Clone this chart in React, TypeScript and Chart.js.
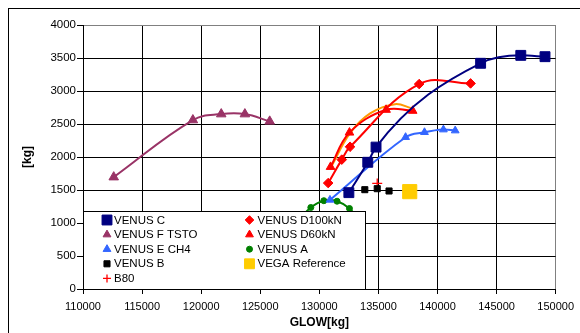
import React, { useEffect, useRef } from 'react';
import { Chart, registerables } from 'chart.js';
import { drawPoint } from 'chart.js/helpers';

Chart.register(...registerables);

// ---- data ----
const xTickValues = [110000, 115000, 120000, 125000, 130000, 135000, 140000, 145000, 150000];
const yTickValues = [0, 500, 1000, 1500, 2000, 2500, 3000, 3500, 4000];

const venusCX = [132500, 134100, 134800, 143650, 147050, 149100];
const venusCY = [1460, 1920, 2150, 3420, 3540, 3520];

const venusFX = [112600, 119300, 121700, 123700, 125800];
const venusFY = [1695, 2560, 2650, 2650, 2540];

const venusEX = [130900, 137300, 138900, 140500, 141500];
const venusEY = [1350, 2300, 2375, 2415, 2400];

const venusBX = [133850, 134900, 135900];
const venusBY = [1505, 1520, 1485];

const b80X = [134900];
const b80Y = [1600];

const venusD100X = [130750, 131900, 132600, 138450, 142800];
const venusD100Y = [1605, 1960, 2155, 3105, 3115];

const venusD60X = [130950, 132550, 135650, 137900];
const venusD60Y = [1850, 2370, 2715, 2700];

const venusAX = [128300, 129280, 130380, 131500, 132550, 133300];
const venusAY = [1050, 1235, 1338, 1330, 1220, 1050];

const vegaX = [137650];
const vegaY = [1475];

const trendX = [131000, 132600, 134300, 136400, 137800];
const trendY = [1850, 2360, 2660, 2800, 2740];

const FONT = "'Liberation Sans', Arial, sans-serif";

const pts = (xs: number[], ys: number[]) => xs.map((x, i) => ({ x, y: ys[i] }));

type Series = {
  label: string;
  xs: number[];
  ys: number[];
  color: string;
  style: string;
  radius: number;
  line: boolean;
  monotone: boolean;
  legendRadius: number;
  legend: [number, number] | null; // column,row
};

const series: Series[] = [
  { label: 'VENUS C', xs: venusCX, ys: venusCY, color: '#000080', style: 'rect', radius: 7, line: true, monotone: true, legendRadius: 7, legend: [0, 0] },
  { label: 'VENUS F TSTO', xs: venusFX, ys: venusFY, color: '#993366', style: 'triangle', radius: 5.5, line: true, monotone: false, legendRadius: 4.5, legend: [0, 1] },
  { label: 'VENUS E CH4', xs: venusEX, ys: venusEY, color: '#3366FF', style: 'triangle', radius: 4.5, line: true, monotone: false, legendRadius: 4.5, legend: [0, 2] },
  { label: 'VENUS B', xs: venusBX, ys: venusBY, color: '#000000', style: 'rect', radius: 4.3, line: false, monotone: false, legendRadius: 4.3, legend: [0, 3] },
  { label: 'B80', xs: b80X, ys: b80Y, color: '#FF0000', style: 'cross', radius: 5, line: false, monotone: false, legendRadius: 4, legend: [0, 4] },
  { label: 'VENUS D100kN', xs: venusD100X, ys: venusD100Y, color: '#FF0000', style: 'rectRot', radius: 4.8, line: true, monotone: false, legendRadius: 4.3, legend: [1, 0] },
  { label: 'VENUS D60kN', xs: venusD60X, ys: venusD60Y, color: '#FF0000', style: 'triangle', radius: 5, line: true, monotone: false, legendRadius: 4.5, legend: [1, 1] },
  { label: 'VENUS A', xs: venusAX, ys: venusAY, color: '#008000', style: 'circle', radius: 3, line: true, monotone: false, legendRadius: 3, legend: [1, 2] },
  { label: 'VEGA Reference', xs: vegaX, ys: vegaY, color: '#FFCC00', style: 'rect', radius: 10, line: false, monotone: false, legendRadius: 7, legend: [1, 3] },
  { label: 'trend', xs: trendX, ys: trendY, color: '#FF9900', style: 'circle', radius: 0, line: true, monotone: false, legendRadius: 0, legend: null },
];

const framePlugin = {
  id: 'framePlugin',
  beforeDraw(chart: any) {
    const { ctx, width, height } = chart;
    ctx.save();
    ctx.fillStyle = '#ffffff';
    ctx.fillRect(0, 0, width, height);
    ctx.strokeStyle = '#000000';
    ctx.lineWidth = 1;
    ctx.strokeRect(8.5, 8.5, width + 20, height + 20);
    ctx.restore();
  },
  afterDatasetsDraw(chart: any) {
    const { ctx, chartArea } = chart;
    const left = chartArea.left;
    const bottom = chartArea.bottom;
    const boxW = 282;
    const boxH = 78;
    ctx.save();
    ctx.fillStyle = '#ffffff';
    ctx.fillRect(left, bottom - boxH, boxW, boxH);
    ctx.strokeStyle = '#000000';
    ctx.lineWidth = 1;
    ctx.strokeRect(left + 0.5, bottom - boxH + 0.5, boxW, boxH);
    const colMarker = [left + 24, left + 166.5];
    const colText = [left + 31, left + 174.5];
    const rowY = [220, 234.6, 249.2, 263.8, 278.4].map((v) => bottom - 289 + v);
    ctx.font = `11.5px ${FONT}`;
    ctx.textBaseline = 'middle';
    ctx.textAlign = 'left';
    series.forEach((s) => {
      if (!s.legend) return;
      const [c, r] = s.legend;
      ctx.fillStyle = s.color;
      ctx.strokeStyle = s.color;
      ctx.lineWidth = s.style === 'cross' ? 1.3 : 1;
      drawPoint(ctx, { pointStyle: s.style, radius: s.legendRadius, rotation: 0, borderWidth: 1 } as any, colMarker[c], rowY[r]);
      ctx.fillStyle = '#000000';
      ctx.fillText(s.label, colText[c], rowY[r] + 0.5);
    });
    ctx.restore();
  },
};

export default function App() {
  const ref = useRef<HTMLCanvasElement | null>(null);

  useEffect(() => {
    if (!ref.current) return;
    const datasets = series.map((s, i) => ({
      label: s.label,
      data: pts(s.xs, s.ys),
      showLine: s.line,
      borderColor: s.color,
      backgroundColor: s.color,
      borderWidth: 2,
      pointStyle: s.style as any,
      pointRadius: s.radius,
      pointHoverRadius: s.radius,
      pointBorderWidth: s.style === 'cross' ? 1.3 : 1,
      pointBorderColor: s.color,
      pointBackgroundColor: s.color,
      tension: 0.4,
      cubicInterpolationMode: (s.monotone ? 'monotone' : 'default') as any,
      order: i,
    }));

    const chart = new Chart(ref.current, {
      type: 'scatter',
      data: { datasets },
      options: {
        responsive: false,
        animation: false,
        events: [],
        layout: { padding: { left: 0, top: 25, right: 24, bottom: 0 } },
        plugins: {
          legend: { display: false },
          tooltip: { enabled: false },
        },
        scales: {
          x: {
            type: 'linear',
            min: 110000,
            max: 150000,
            afterBuildTicks: (scale: any) => {
              scale.ticks = xTickValues.map((v) => ({ value: v }));
            },
            afterFit: (scale: any) => {
              scale.height = 44;
            },
            ticks: {
              color: '#000',
              font: { family: FONT, size: 11 },
              padding: 6,
              maxRotation: 0,
              autoSkip: false,
              callback: (v: any) => String(v),
            },
            grid: {
              color: (ctx: any) => (ctx.tick && ctx.tick.value === 150000 ? '#808080' : '#000000'),
              tickColor: '#000000',
              tickLength: 5,
              lineWidth: 1,
            },
            border: { color: '#000000', width: 1 },
            title: {
              display: true,
              text: 'GLOW[kg]',
              color: '#000',
              font: { family: FONT, size: 12, weight: 'bold' },
              padding: { top: 0, bottom: 3 },
            },
          },
          y: {
            type: 'linear',
            min: 0,
            max: 4000,
            afterBuildTicks: (scale: any) => {
              scale.ticks = yTickValues.map((v) => ({ value: v }));
            },
            afterFit: (scale: any) => {
              scale.width = 83;
            },
            ticks: {
              color: '#000',
              font: { family: FONT, size: 11.5 },
              padding: 1,
              autoSkip: false,
              callback: (v: any) => String(v),
            },
            grid: {
              color: (ctx: any) => (ctx.tick && ctx.tick.value === 4000 ? '#808080' : '#000000'),
              tickColor: '#000000',
              tickLength: 6,
              lineWidth: 1,
            },
            border: { color: '#000000', width: 1 },
            title: {
              display: true,
              text: '[kg]',
              color: '#000',
              font: { family: FONT, size: 12, weight: 'bold' },
              padding: { top: 20, bottom: 0 },
            },
          },
        },
      },
      plugins: [framePlugin],
    });
    return () => chart.destroy();
  }, []);

  return (
    <div style={{ position: 'fixed', left: 0, top: 0, width: 580, height: 333, background: '#fff' }}>
      <canvas ref={ref} width={580} height={333} style={{ display: 'block', width: 580, height: 333 }} />
    </div>
  );
}
